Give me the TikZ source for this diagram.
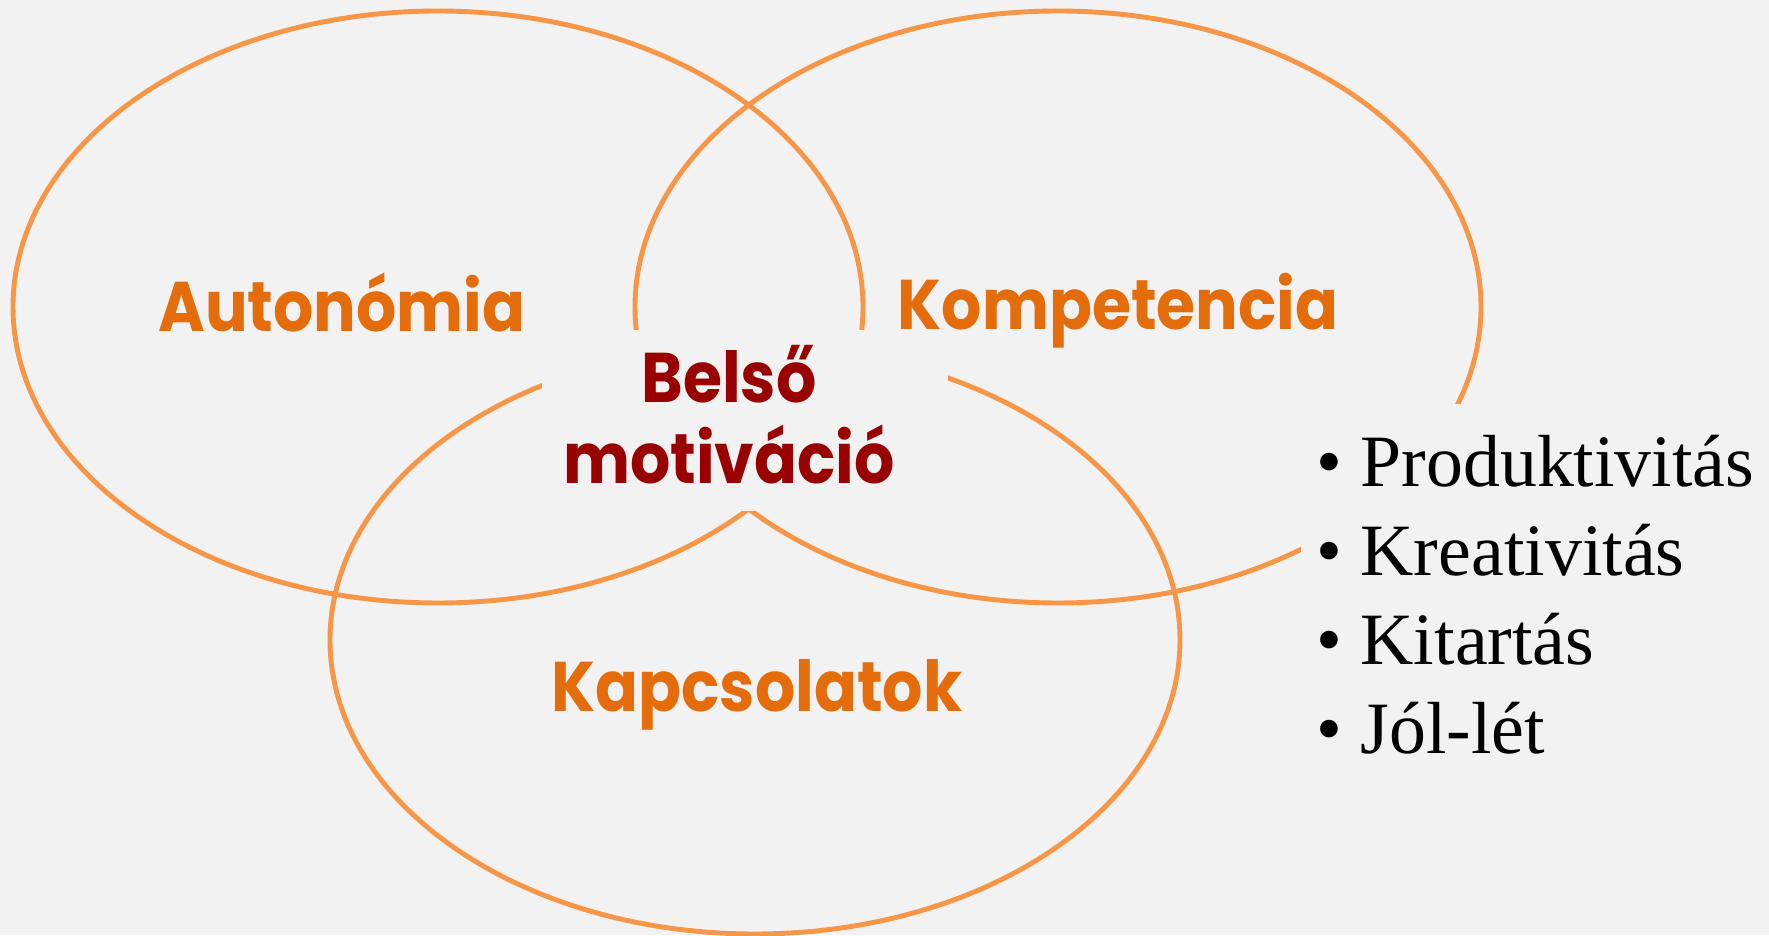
\documentclass[tikz,border=0pt]{standalone}
\usepackage{fontspec}
\setmainfont{Liberation Serif}
\newfontfamily\comicfont{Poppins}[FakeStretch=0.9]
\definecolor{bgcol}{HTML}{F2F2F2}
\definecolor{ringcol}{HTML}{F79646}
\definecolor{labelcol}{HTML}{E46C0A}
\definecolor{corecol}{HTML}{990000}

\begin{document}
\begin{tikzpicture}[
  ring/.style={draw=ringcol, line width=1.4pt},
  circlelabel/.style={text=labelcol, inner sep=0pt, anchor=base, font=\comicfont\bfseries\fontsize{20}{24}\selectfont},
  corelabel/.style={text=corecol, inner sep=0pt, align=center, font=\comicfont\bfseries\fontsize{20}{23}\selectfont},
  item/.style={inner sep=0pt, anchor=base west, font=\fontsize{21}{25}\selectfont}
]
\useasboundingbox[fill=bgcol] (0,0) rectangle (17.69,9.35);

% three rings
\coordinate (A) at (4.38,6.28);
\coordinate (K) at (10.58,6.28);
\coordinate (R) at (7.55,2.95);
\draw[ring] (A) ellipse [x radius=4.25, y radius=2.96];
\draw[ring] (K) ellipse [x radius=4.23, y radius=2.96];
\draw[ring] (R) ellipse [x radius=4.25, y radius=2.94];

% text boxes cover the rings
\fill[bgcol] (5.42,4.24) rectangle (9.48,6.05);
\fill[bgcol] (13.01,0) rectangle (17.69,5.31);

\node[circlelabel] (autonomia) at (3.42,6.03) {Autonómia};
\node[circlelabel] (kompetencia) at (11.18,6.05) {Kompetencia};
\node[circlelabel] (kapcsolatok) at (7.57,2.23) {Kapcsolatok};
\node[corelabel] (belso) at (7.29,5.2) {Belső\\motiváció};

\foreach \t [count=\i] in {Produktivitás,Kreativitás,Kitartás,Jól-lét}
  \node[item] (item\i) at (13.16,{4.48-0.887*(\i-1)}) {\makebox[0.44cm][l]{•}\t};

\end{tikzpicture}
\end{document}
